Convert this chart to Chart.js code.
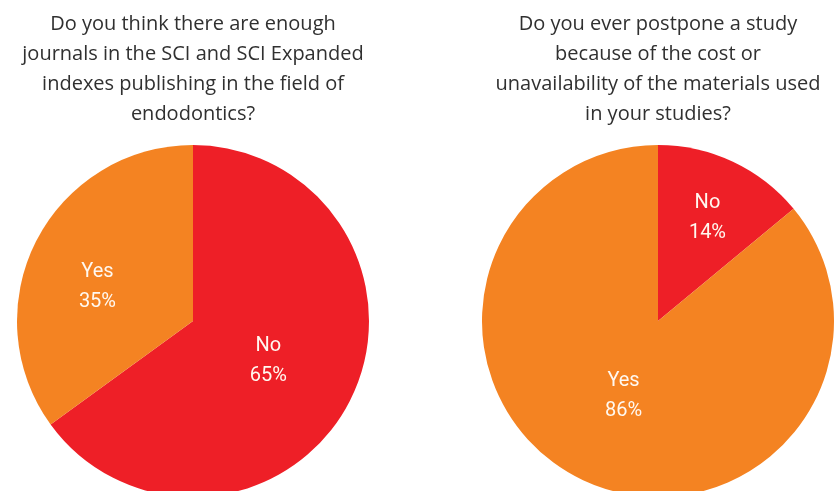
<!DOCTYPE html>
<html>
<head>
<meta charset="utf-8">
<script src="https://cdn.jsdelivr.net/npm/chart.js@4"></script>
<style>
  html, body { margin: 0; padding: 0; background: #fff; overflow: hidden; }
  body { width: 835px; height: 491px; position: relative; }
  .box { position: absolute; top: 0; height: 500px; }
  #left { left: 0; width: 386px; }
  #right { left: 482px; width: 352px; }
</style>
</head>
<body>
<div class="box" id="left"><canvas id="chart1"></canvas></div>
<div class="box" id="right"><canvas id="chart2"></canvas></div>
<script>
'use strict';

let categories1 = ['No', 'Yes'];
let values1 = [65, 35];
let title1 = ['Do you think there are enough', 'journals in the SCI and SCI Expanded', 'indexes publishing in the field of', 'endodontics?'];

let categories2 = ['No', 'Yes'];
let values2 = [14, 86];
let title2 = ['Do you ever postpone a study', 'because of the cost or', 'unavailability of the materials used', 'in your studies?'];

let sliceColors = ['#EE1F27', '#F48322'];

// draws "label\nvalue%" inside each slice
let sliceLabels = {
  id: 'sliceLabels',
  afterDatasetsDraw(chart, args, opts) {
    let ctx = chart.ctx;
    let meta = chart.getDatasetMeta(0);
    let ds = chart.data.datasets[0];
    ctx.save();
    ctx.fillStyle = '#FFF8F0';
    ctx.font = '20px Roboto';
    ctx.textAlign = 'center';
    ctx.textBaseline = 'middle';
    meta.data.forEach(function (arc, i) {
      let mid = (arc.startAngle + arc.endAngle) / 2 + (opts.shift[i] || 0) * Math.PI / 180;
      let r = arc.outerRadius * opts.radius[i];
      let x = arc.x + Math.cos(mid) * r;
      let y = arc.y + Math.sin(mid) * r + 2;
      ctx.fillText(chart.data.labels[i], x, y - 15);
      ctx.fillText(ds.data[i] + '%', x, y + 15);
    });
    ctx.restore();
  }
};

function pieChart(id, labels, values, title, labelRadius, labelShift) {
  let ctx = document.getElementById(id).getContext('2d');
  return new Chart(ctx, {
    type: 'pie',
    data: {
      labels: labels,
      datasets: [{
        data: values,
        backgroundColor: sliceColors,
        borderWidth: 0
      }]
    },
    options: {
      responsive: true,
      maintainAspectRatio: false,
      animation: false,
      layout: { padding: { bottom: 3 } },
      plugins: {
        legend: { display: false },
        tooltip: { enabled: false },
        title: {
          display: true,
          text: title,
          color: '#303030',
          font: { family: 'Open Sans', size: 20, weight: 'normal', lineHeight: 1.5 },
          padding: { top: 9, bottom: 16 }
        },
        sliceLabels: { radius: labelRadius, shift: labelShift }
      }
    },
    plugins: [sliceLabels]
  });
}

pieChart('chart1', categories1, values1, title1, [0.48, 0.58], [0, -6.4]);
pieChart('chart2', categories2, values2, title2, [0.66, 0.46], [0, 0]);
</script>
</body>
</html>
